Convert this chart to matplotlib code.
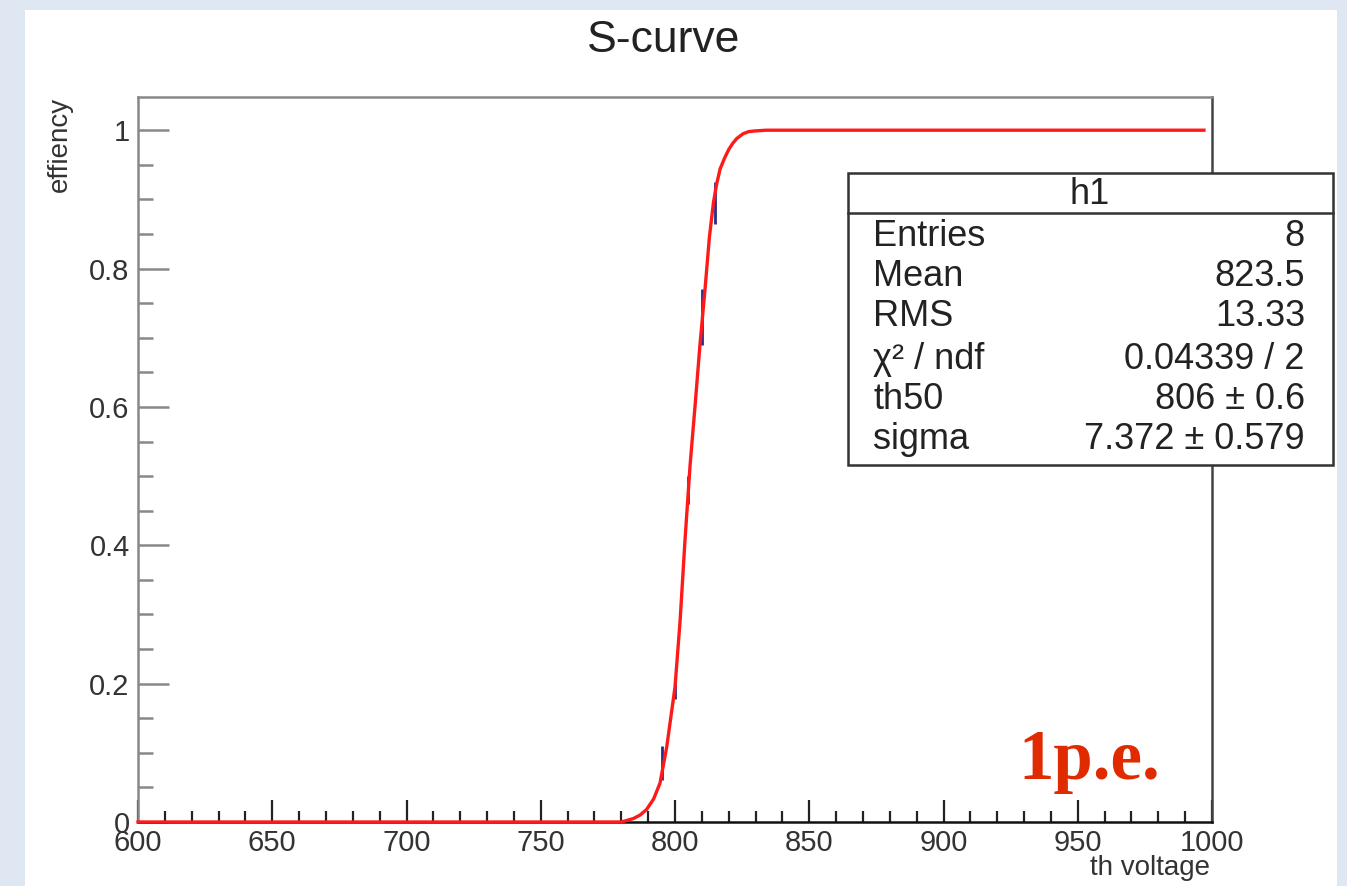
import matplotlib
matplotlib.use("Agg")
import matplotlib.pyplot as plt
from matplotlib.patches import Rectangle
from matplotlib.lines import Line2D
from matplotlib.ticker import MultipleLocator

# --- data ---
fit_x = [600, 780, 784.5, 787.0, 789.4, 792.0, 794.4, 796.9, 800.0, 801.9, 803.7, 805.6,
         807.5, 809.3, 811.2, 812.8, 814.3, 815.5, 816.8, 818.5, 820.0, 821.5, 823.0,
         825.4, 827.5, 830.0, 834.0, 997]
fit_y = [0, 0, 0.005, 0.010, 0.018, 0.033, 0.056, 0.108, 0.195, 0.291, 0.406, 0.515,
         0.603, 0.690, 0.771, 0.845, 0.895, 0.922, 0.944, 0.960, 0.972, 0.981, 0.988,
         0.995, 0.998, 0.999, 1.0, 1.0]

pts_x = [795, 800, 805, 810, 815]
pts_y = [0.085, 0.19, 0.48, 0.73, 0.895]
pts_err = [0.025, 0.012, 0.02, 0.04, 0.03]

stat_names = ["Entries", "Mean", "RMS", "\u03c7\u00b2 / ndf", "th50", "sigma"]
stat_values = ["8", "823.5", "13.33", "0.04339 / 2", "806 \u00b1 0.6", "7.372 \u00b1 0.579"]

W, H = 1347, 886
plt.rcParams['font.family'] = ['Liberation Sans', 'DejaVu Sans']

fig = plt.figure(figsize=(W / 100, H / 100), dpi=100)
fig.patch.set_facecolor('#dfe8f2')


def fx(px):
    return px / W


def fy(py):
    return 1 - py / H


# white canvas
fig.add_artist(Rectangle((fx(25), fy(886)), fx(1337) - fx(25), fy(10) - fy(886),
                         transform=fig.transFigure, facecolor='white', edgecolor='none', zorder=0))

ax = fig.add_axes([fx(138), fy(822), fx(1212) - fx(138), fy(97) - fy(822)])
ax.set_xlim(600, 1000)
ax.set_ylim(0, 1.048)

ax.errorbar(pts_x, pts_y, yerr=pts_err, fmt='none', ecolor='#2a2a8a', elinewidth=2, zorder=2)
ax.plot(fit_x, fit_y, color='#ff1a1a', linewidth=2.4, zorder=3, clip_on=False,
        solid_joinstyle='round')

ax.xaxis.set_major_locator(MultipleLocator(50))
ax.xaxis.set_minor_locator(MultipleLocator(10))
ax.yaxis.set_minor_locator(MultipleLocator(0.05))
ax.set_yticks([0, 0.2, 0.4, 0.6, 0.8, 1.0])
ax.set_yticklabels(['0', '0.2', '0.4', '0.6', '0.8', '1'])

ax.tick_params(axis='x', which='major', direction='in', length=15.8, width=1.6,
               colors='#222222', labelsize=21, labelcolor='#333333', pad=5)
ax.tick_params(axis='x', which='minor', direction='in', length=8, width=1.6, colors='#222222')
ax.tick_params(axis='y', which='major', direction='in', length=22, width=1.8,
               colors='#888888', labelsize=21, labelcolor='#333333', pad=6)
ax.tick_params(axis='y', which='minor', direction='in', length=10.8, width=1.8, colors='#888888')

ax.spines['left'].set_color('#888888')
ax.spines['top'].set_color('#888888')
ax.spines['bottom'].set_color('#111111')
ax.spines['right'].set_color('#444444')
for s in ax.spines.values():
    s.set_linewidth(1.8)

fig.text(fx(664), fy(41), "S-curve", ha='center', va='center', fontsize=32, color='#222222')
fig.text(fx(1210), fy(868), "th voltage", ha='right', va='center', fontsize=20, color='#333333')
fig.text(fx(60), fy(97), "effiency", ha='center', va='top', rotation=90, fontsize=20, color='#333333')

# stats box
bx0, bx1, by0, by1, bsep = 848, 1333, 173, 465, 213
fig.add_artist(Rectangle((fx(bx0), fy(by1)), fx(bx1) - fx(bx0), fy(by0) - fy(by1),
                         transform=fig.transFigure, facecolor='white', edgecolor='#333333',
                         linewidth=1.8, zorder=5))
fig.add_artist(Line2D([fx(bx0), fx(bx1)], [fy(bsep), fy(bsep)], transform=fig.transFigure,
                      color='#333333', linewidth=1.8, zorder=6))
fig.text(fx(1090), fy(194), "h1", ha='center', va='center', fontsize=26, color='#222222', zorder=7)
row_y = [237, 277, 317, 359, 400, 440]
for name, val, ry in zip(stat_names, stat_values, row_y):
    fig.text(fx(873), fy(ry), name, ha='left', va='center', fontsize=26, color='#222222', zorder=7)
    fig.text(fx(1305), fy(ry), val, ha='right', va='center', fontsize=26, color='#222222', zorder=7)

fig.text(fx(1018), fy(779), "1p.e.", ha='left', va='baseline', fontsize=51, fontweight='bold',
         color='#e02a00', family=['Liberation Serif', 'DejaVu Serif'], zorder=7)

fig.savefig("out.png", dpi=100, facecolor=fig.get_facecolor())
